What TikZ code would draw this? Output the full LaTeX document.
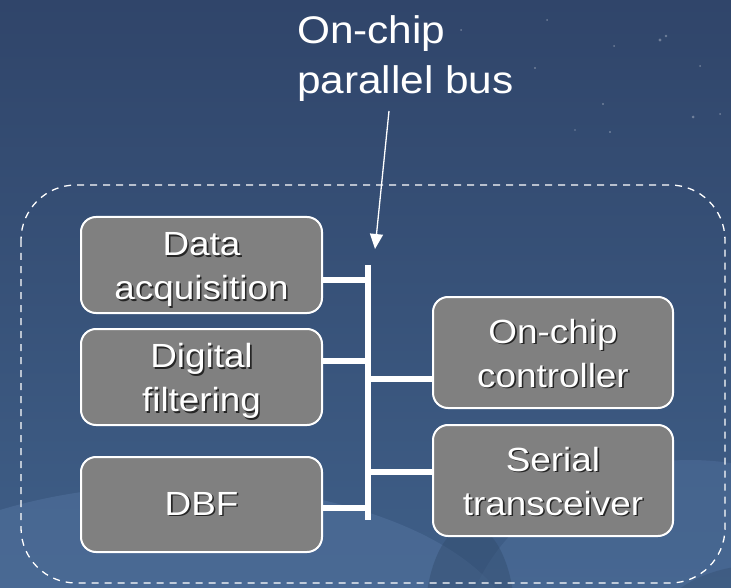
\documentclass[tikz,border=0pt]{standalone}
\usepackage{fontspec}
\usetikzlibrary{arrows.meta}
\newfontfamily\labelfont[FakeStretch=1.1]{Liberation Sans}
\definecolor{skytop}{HTML}{30456A}
\definecolor{skybot}{HTML}{3F5F88}
\definecolor{swirl}{HTML}{5474A0}
\definecolor{boxgray}{HTML}{808080}
% white text with a small dark drop shadow
\newcommand\shadowed[1]{\rlap{\kern1.6pt\raisebox{-1.6pt}{\color{black!85}#1}}#1}
\tikzset{
  blockbox/.style={draw=white, line width=2pt, fill=boxgray, rounded corners=15pt,
    minimum width=241pt, inner sep=0pt, text=white, align=center,
    font=\labelfont\fontsize{33.5}{44}\selectfont},
  twoline/.style={text height=69pt, text depth=0pt},
  busline/.style={white, line width=5.5pt, line cap=butt},
  frameline/.style={white, line width=1.3pt, dash pattern=on 7pt off 6pt, rounded corners=55pt},
  pointer/.style={white, line width=1.3pt, -{Triangle[length=15pt,width=13pt]}},
  star/.style={fill=white, opacity=0.3},
}
\begin{document}
\begin{tikzpicture}[x=1pt, y=-1pt]
  % backdrop
  \shade[top color=skytop, bottom color=skybot] (0,0) rectangle (731,588);
  \begin{scope}
    \clip (0,0) rectangle (731,588);
    \fill[swirl, opacity=0.5] (180,650) ellipse [x radius=340, y radius=165];
    \fill[swirl, opacity=0.4] (690,660) ellipse [x radius=230, y radius=200];
    \fill[skybot!80!black, opacity=0.45] (470,620) ellipse [x radius=45, y radius=95];
    \fill[skybot!85!black, opacity=0.45] (760,640) ellipse [x radius=110, y radius=75];
  \end{scope}
  \foreach \sx/\sy/\sr in {660/40/1.6, 666/36/1.4, 535/68/1.1, 693/117/1.5, 603/104/1.1,
      547/20/1.0, 614/46/1.0, 700/66/1.0, 720/114/1.0, 575/130/0.9, 461/30/1.0, 610/132/1.2}
    \fill[star] (\sx,\sy) circle (\sr);
  \useasboundingbox (0,0) rectangle (731,588);

  % dashed outline round the chip
  \draw[frameline] (21,185) rectangle (725,583);

  % label
  \node[anchor=north west, inner sep=0pt, text=white, align=left,
        font=\labelfont\fontsize{38.5}{50}\selectfont] (title) at (297,15)
        {On-chip\\parallel bus};

  % blocks
  \node[blockbox, twoline, minimum height=96pt] (acq)  at (201.5,265) {\shadowed{Data}\\\shadowed{acquisition}};
  \node[blockbox, twoline, minimum height=96pt] (filt) at (201.5,377) {\shadowed{Digital}\\\shadowed{filtering}};
  \node[blockbox, minimum height=95pt] (dbf) at (201.5,504.5) {\shadowed{DBF}};
  \node[blockbox, twoline, minimum width=240pt, minimum height=111pt] (ctrl) at (553,352.5) {\shadowed{On-chip}\\\shadowed{controller}};
  \node[blockbox, twoline, minimum width=240pt, minimum height=111pt] (ser)  at (553,480.5) {\shadowed{Serial}\\\shadowed{transceiver}};

  % parallel bus and its taps
  \coordinate (bustop) at (368,265);
  \coordinate (busbot) at (368,520);
  \coordinate (tapacq)  at (368,280);
  \coordinate (tapfilt) at (368,361);
  \coordinate (tapctrl) at (368,379);
  \coordinate (tapser)  at (368,472);
  \coordinate (tapdbf)  at (368,508);
  \draw[busline] (bustop) -- (busbot);
  \draw[busline] (tapacq -| acq.east) -- (tapacq);
  \draw[busline] (tapfilt -| filt.east) -- (tapfilt);
  \draw[busline] (tapdbf -| dbf.east) -- (tapdbf);
  \draw[busline] (tapctrl) -- (tapctrl -| ctrl.west);
  \draw[busline] (tapser) -- (tapser -| ser.west);

  % pointer from the label to the bus
  \coordinate (ptrstart) at (389,111);
  \coordinate (ptrend) at (375,249);
  \draw[pointer] (ptrstart) -- (ptrend);
\end{tikzpicture}
\end{document}
